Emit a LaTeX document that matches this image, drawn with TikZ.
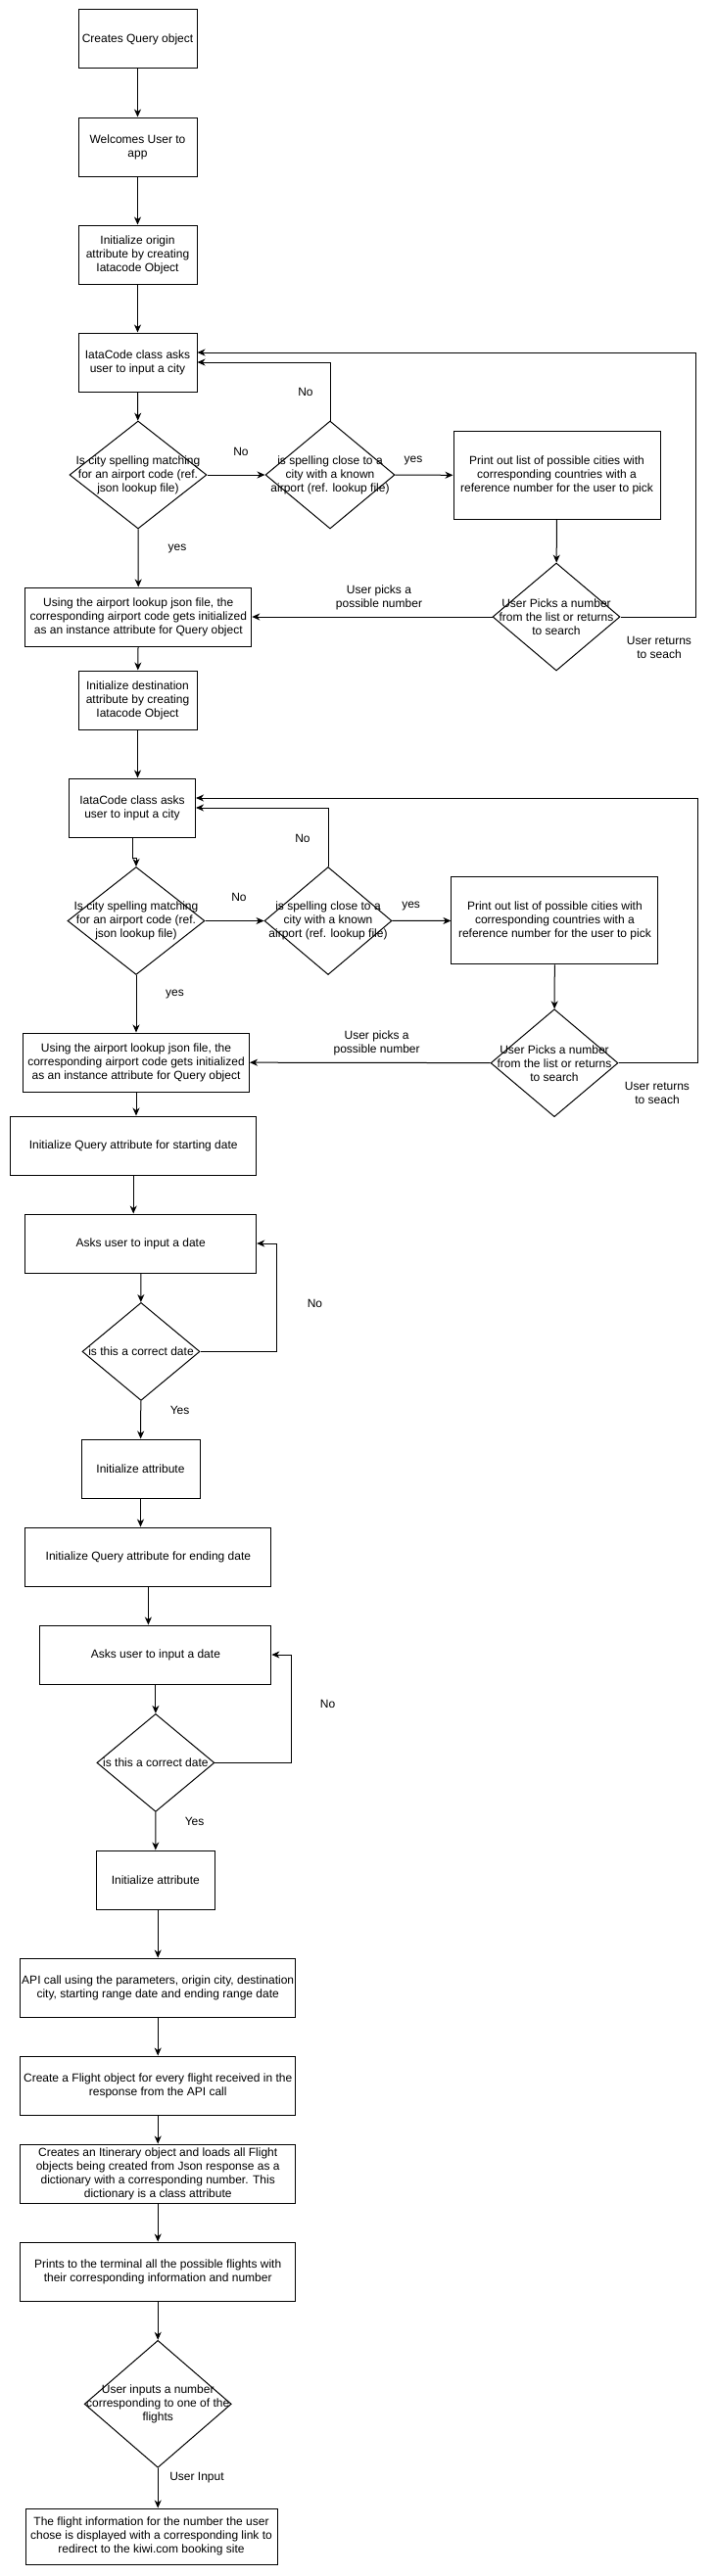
\documentclass[tikz,border=0pt]{standalone}
\usepackage{fontspec}
\setmainfont{Liberation Sans}
\usetikzlibrary{arrows.meta,shapes.geometric}

\begin{document}
\begin{tikzpicture}[x=1pt,y=-1pt,font=\fontsize{12}{14}\selectfont,line width=1pt,
    >={Stealth[length=8pt,width=7pt,inset=2.5pt]},
    box/.style 2 args={draw,align=center,inner sep=0pt,minimum width=#1,minimum height=#2},
    dia/.style 2 args={draw,diamond,inner sep=0pt,minimum width=#1,minimum height=#2},
    txt/.style={align=center,inner sep=0pt}]
  \useasboundingbox (0,0) rectangle (729,2631);

  \node[box={121}{60}] (b1) at (140.5,40) {Creates Query object};
  \node[box={121}{60}] (b2) at (140.5,150) {Welcomes User to\\app};
  \node[box={121}{60}] (b3) at (140.5,260) {Initialize origin\\attribute by creating\\Iatacode Object};
  \node[box={121}{60}] (b4) at (140.5,370) {IataCode class asks\\user to input a city};
  \node[dia={140}{110}] (d1) at (141,485) {}; \node[txt] (d1t) at (d1) {Is city spelling matching\\for an airport code (ref.\\json lookup file)};
  \node[dia={132}{110}] (d2) at (337,485) {}; \node[txt] (d2t) at (d2) {is spelling close to a\\city with a known\\airport (ref. lookup file)};
  \node[box={211}{90}] (b5) at (568.5,485.5) {Print out list of possible cities with\\corresponding countries with a\\reference number for the user to pick};
  \node[dia={130}{110}] (d3) at (568,630) {}; \node[txt] (d3t) at (d3) {User Picks a number\\from the list or returns\\to search};
  \node[box={231}{60}] (b6) at (141.3,630) {Using the airport lookup json file, the\\corresponding airport code gets initialized\\as an instance attribute for Query object};
  \node[box={121}{60}] (b7) at (140.5,715) {Initialize destination\\attribute by creating\\Iatacode Object};
  \coordinate (c1) at (710,360);

  \node[txt] (l1) at (312,400) {No};
  \node[txt] (l2) at (246,461) {No};
  \node[txt] (l3) at (422,471) {yes};
  \node[txt] (l4) at (181,561) {yes};
  \node[txt] (l5) at (387,610.7) {User picks a\\possible number};
  \node[txt] (l6) at (673,661) {User returns\\to seach};

  \draw[->] (b1) to (b2);
  \draw[->] (b2) to (b3);
  \draw[->] (b3) to (b4);
  \draw[->] (b4) to (d1);
  \draw[->] (d1) to (d2);
  \draw[->] (d2) to (b5);
  \draw[->] (d2.north) |- (b4.east);
  \draw[->] (b5) to (d3);
  \draw[->] (d3) to (b6);
  \draw[->] (d3.east) -| (c1) -- (b4.east |- c1);
  \draw[->] (d1) to (b6);
  \draw[->] (b6) to (b7);

  \node[box={129}{60}] (b8) at (135,825) {IataCode class asks\\user to input a city};
  \node[dia={140}{110}] (d4) at (139,940.5) {}; \node[txt] (d4t) at (d4) {Is city spelling matching\\for an airport code (ref.\\json lookup file)};
  \node[dia={130}{110}] (d5) at (335,940.5) {}; \node[txt] (d5t) at (d5) {is spelling close to a\\city with a known\\airport (ref. lookup file)};
  \node[box={211}{89}] (b9) at (566.4,940.4) {Print out list of possible cities with\\corresponding countries with a\\reference number for the user to pick};
  \node[dia={130}{110}] (d6) at (566,1085.7) {}; \node[txt] (d6t) at (d6) {User Picks a number\\from the list or returns\\to search};
  \node[box={231}{60}] (b10) at (139,1085) {Using the airport lookup json file, the\\corresponding airport code gets initialized\\as an instance attribute for Query object};
  \coordinate (c2) at (712,815);

  \node[txt] (l7) at (309,856) {No};
  \node[txt] (l8) at (244,916) {No};
  \node[txt] (l9) at (419.6,926) {yes};
  \node[txt] (l10) at (178.5,1016) {yes};
  \node[txt] (l11) at (384.6,1065.7) {User picks a\\possible number};
  \node[txt] (l12) at (671,1116) {User returns\\to seach};

  \draw[->] (b7.south) -- (b7.south |- b8.north);
  \draw[->] (b8.south) -- ++(0,21) -| (d4.north);
  \draw[->] (d4) to (d5);
  \draw[->] (d5) to (b9);
  \draw[->] (d5.north) |- (b8.east);
  \draw[->] (b9) to (d6);
  \draw[->] (d6) to (b10);
  \draw[->] (d6.east) -| (c2) -- (b8.east |- c2);
  \draw[->] (d4) to (b10);

  \node[box={251}{60}] (b11) at (136.2,1170) {Initialize Query attribute for starting date};
  \node[box={236}{60}] (b12) at (143.7,1270) {Asks user to input a date};
  \node[dia={120}{100}] (d7) at (144,1380.4) {}; \node[txt] (d7t) at (d7) {is this a correct date};
  \node[box={121}{60}] (b13) at (143.5,1500) {Initialize attribute};
  \coordinate (c3) at (282,1380.4);
  \node[txt] (l13) at (321.5,1331) {No};
  \node[txt] (l14) at (183.6,1440.7) {Yes};

  \draw[->] (b10.south) -- (b10.south |- b11.north);
  \draw[->] (b11.south) -- (b11.south |- b12.north);
  \draw[->] (b12) to (d7);
  \draw[->] (d7.east) -- (c3) |- (b12.east);
  \draw[->] (d7) to (b13);

  \node[box={251}{60}] (b14) at (151.4,1590) {Initialize Query attribute for ending date};
  \node[box={236}{60}] (b15) at (158.9,1690) {Asks user to input a date};
  \node[dia={120}{100}] (d8) at (158.9,1800.4) {}; \node[txt] (d8t) at (d8) {is this a correct date};
  \node[box={121}{60}] (b16) at (158.8,1920) {Initialize attribute};
  \coordinate (c4) at (297.2,1800.4);
  \node[txt] (l15) at (334.6,1740.7) {No};
  \node[txt] (l16) at (198.6,1860.7) {Yes};

  \draw[->] (b13.south) -- (b13.south |- b14.north);
  \draw[->] (b14.south) -- (b14.south |- b15.north);
  \draw[->] (b15) to (d8);
  \draw[->] (d8.east) -- (c4) |- (b15.east);
  \draw[->] (d8) to (b16);

  \node[box={281}{60}] (b17) at (161.2,2030) {API call using the parameters, origin city, destination\\city, starting range date and ending range date};
  \node[box={281}{60}] (b18) at (161.2,2130) {Create a Flight object for every flight received in the\\response from the API call};
  \node[box={281}{60}] (b19) at (161.2,2220) {Creates an Itinerary object and loads all Flight\\objects being created from Json response as a\\dictionary with a corresponding number. This\\dictionary is a class attribute};
  \node[box={281}{60}] (b20) at (161.2,2320) {Prints to the terminal all the possible flights with\\their corresponding information and number};
  \node[dia={150}{130}] (d9) at (161.2,2455.3) {}; \node[txt] (d9t) at (d9) {User inputs a number\\corresponding to one of the\\flights};
  \node[box={257}{57}] (b21) at (154.5,2590.5) {The flight information for the number the user\\chose is displayed with a corresponding link to\\redirect to the kiwi.com booking site};
  \node[txt] (l17) at (201,2531) {User Input};

  \draw[->] (b16.south -| b17.north) -- (b17.north);
  \draw[->] (b17) to (b18);
  \draw[->] (b18) to (b19);
  \draw[->] (b19) to (b20);
  \draw[->] (b20) to (d9);
  \draw[->] (d9.south) -- (d9.south |- b21.north);
\end{tikzpicture}
\end{document}
